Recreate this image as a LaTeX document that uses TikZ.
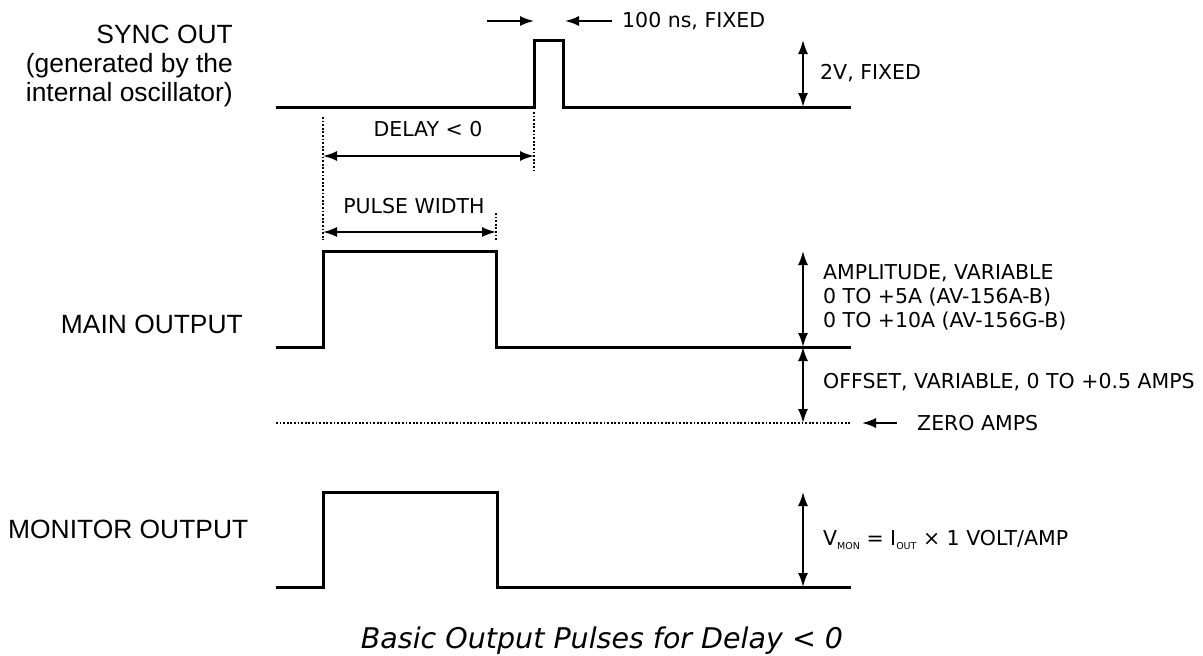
\documentclass[tikz,border=0pt]{standalone}
\usepackage{fontspec}
\setmainfont{DejaVu Sans}
\newfontfamily\labelfont{Liberation Sans}
\usetikzlibrary{arrows.meta, calc, positioning}

\tikzset{
  wave/.style={line width=3pt, line join=miter},
  dimline/.style={line width=1.8pt},
  guide/.style={line width=1.5pt, dash pattern=on 1.8pt off 1.8pt},
  sig/.style={font=\labelfont\fontsize{26.4}{29}\selectfont, inner sep=0pt},
  note/.style={font=\fontsize{20.5}{24}\selectfont, inner sep=0pt, anchor=west},
}

\begin{document}
\begin{tikzpicture}[x=1pt, y=-1pt, >={Latex[length=14pt,width=10pt]}]
    \useasboundingbox (0,0) rectangle (1203,656);

    % Signal names
    \node[sig, anchor=east, align=right] (synclbl) at (233,66)
        {SYNC OUT\\(generated by the\\internal oscillator)};
    \node[sig, anchor=east] (mainlbl) at (243,324) {MAIN OUTPUT};
    \node[sig, anchor=west] (monlbl) at (8,529) {MONITOR OUTPUT};

    % Sync out waveform
    \coordinate (s0) at (276,107);
    \coordinate (s1) at (534,107);
    \coordinate (s2) at (534,40);
    \coordinate (s3) at (563,40);
    \coordinate (s4) at (563,107);
    \coordinate (s5) at (851,107);
    \draw[wave] (s0) -- (s1) -- (s2) -- (s3) -- (s4) -- (s5);

    % Sync width
    \coordinate (wl) at (487,21);
    \coordinate (wr) at (612,21);
    \draw[->, dimline] (wl) -- (s2 |- wl);
    \draw[->, dimline] (wr) -- ($(s3 |- wr)+(2,0)$);
    \node[note] (wlbl) at (622,21) {100 ns, FIXED};

    % Sync amplitude
    \coordinate (v1) at (803,40);
    \coordinate (v2) at (803,107);
    \draw[<->, dimline] (v1) -- (v2);
    \node[note] (vlbl) at (820,73) {2V, FIXED};

    % Main output waveform
    \coordinate (m0) at (276,347);
    \coordinate (m1) at (323,347);
    \coordinate (m2) at (323,251);
    \coordinate (m3) at (496,251);
    \coordinate (m4) at (496,347);
    \coordinate (m5) at (851,347);
    \draw[wave] (m0) -- (m1) -- (m2) -- (m3) -- (m4) -- (m5);

    % Guides
    \coordinate (g1) at (323,117);
    \coordinate (g2) at (323,240);
    \coordinate (g3) at (534,112);
    \coordinate (g4) at (534,173);
    \coordinate (g5) at (496,213);
    \coordinate (g6) at (496,240);
    \draw[guide] (g1) -- (g2);
    \draw[guide] (g3) -- (g4);
    \draw[guide] (g5) -- (g6);

    % Delay
    \coordinate (d1) at (323,156);
    \coordinate (d2) at (534,156);
    \draw[<->, dimline] (d1) -- (d2);
    \node[note, anchor=center] (dlbl) at (428,129) {DELAY < 0};

    % Pulse width
    \coordinate (p1) at (323,232);
    \coordinate (p2) at (496,232);
    \draw[<->, dimline] (p1) -- (p2);
    \node[note, anchor=center] (plbl) at (414,206) {PULSE WIDTH};

    % Amplitude and offset
    \coordinate (a1) at (803,251);
    \coordinate (a2) at (803,347);
    \coordinate (a3) at (803,423);
    \draw[<->, dimline] (a1) -- (a2);
    \draw[<->, dimline] (a2) -- (a3);
    \node[note, align=left] (albl) at (823,297)
        {AMPLITUDE, VARIABLE\\0 TO +5A (AV-156A-B)\\0 TO +10A (AV-156G-B)};
    \node[note] (olbl) at (823,382) {OFFSET, VARIABLE, 0 TO +0.5 AMPS};

    % Zero level
    \coordinate (z0) at (276,423);
    \coordinate (z1) at (851,423);
    \draw[guide] (z0) -- (z1);
    \coordinate (za) at (897,423);
    \draw[->, dimline] (za) -- (862,423);
    \node[note] (zlbl) at (917,423) {ZERO AMPS};

    % Monitor output waveform
    \coordinate (n0) at (276,587);
    \coordinate (n1) at (323,587);
    \coordinate (n2) at (323,492);
    \coordinate (n3) at (497,492);
    \coordinate (n4) at (497,587);
    \coordinate (n5) at (851,587);
    \draw[wave] (n0) -- (n1) -- (n2) -- (n3) -- (n4) -- (n5);

    % Monitor amplitude
    \coordinate (k1) at (803,492);
    \coordinate (k2) at (803,587);
    \draw[<->, dimline] (k1) -- (k2);
    \node[note] (klbl) at (823,540)
        {V\raisebox{-4pt}{\fontsize{9.5}{9.5}\selectfont MON} = I\raisebox{-4pt}{\fontsize{9.5}{9.5}\selectfont OUT} × 1 VOLT/AMP};

    % Caption
    \node[font=\fontsize{28.5}{32}\selectfont\itshape, inner sep=0pt] (cap) at (602,641)
        {Basic Output Pulses for Delay < 0};
\end{tikzpicture}
\end{document}
